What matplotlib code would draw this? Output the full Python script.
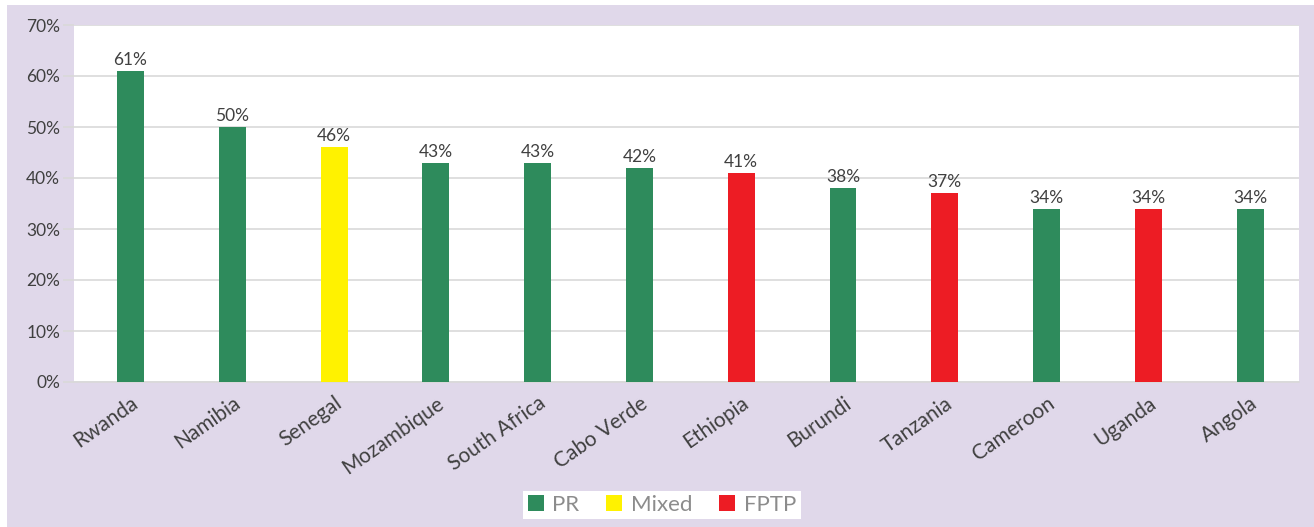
import matplotlib
matplotlib.use("Agg")
import matplotlib.pyplot as plt
from matplotlib.patches import Rectangle, Patch

countries = ["Rwanda", "Namibia", "Senegal", "Mozambique", "South Africa", "Cabo Verde",
             "Ethiopia", "Burundi", "Tanzania", "Cameroon", "Uganda", "Angola"]
values = [61, 50, 46, 43, 43, 42, 41, 38, 37, 34, 34, 34]
systems = ["PR", "PR", "Mixed", "PR", "PR", "PR", "FPTP", "PR", "FPTP", "PR", "FPTP", "PR"]
system_colors = {"PR": "#2E8B5C", "Mixed": "#FFF200", "FPTP": "#ED1C24"}
yticks = [0, 10, 20, 30, 40, 50, 60, 70]

plt.rcParams['font.family'] = ['Lato', 'DejaVu Sans']

fig = plt.figure(figsize=(13.14, 5.27), dpi=100)
fig.patch.set_facecolor("#E0D8EA")
# thin white strips at left and top edges
fig.patches.append(Rectangle((0, 0), 7/1314, 1, transform=fig.transFigure,
                             facecolor="white", edgecolor="none", zorder=-5))
fig.patches.append(Rectangle((0, 1 - 5/527), 1, 5/527, transform=fig.transFigure,
                             facecolor="white", edgecolor="none", zorder=-5))

ax = fig.add_axes([74/1314, 1 - 382/527, (1299 - 74)/1314, (382 - 25)/527])
ax.set_facecolor("white")
x = range(len(countries))
bars = ax.bar(x, values, width=0.265, color=[system_colors[s] for s in systems], zorder=3)
for xi, v in zip(x, values):
    ax.text(xi, v + 0.6, f"{v}%", ha="center", va="bottom", fontsize=12.5, color="#404040")

ax.set_xlim(-0.555, 11.48)
ax.set_ylim(0, 70)
ax.set_yticks(yticks)
ax.set_yticklabels([f"{t}%" for t in yticks], fontsize=12.5, color="#404040")
ax.set_xticks(list(x))
ax.set_xticklabels(countries, rotation=35, ha="right", rotation_mode="anchor",
                   fontsize=15, color="#404040")
ax.tick_params(axis="x", length=0, pad=8)
ax.tick_params(axis="y", length=8, color="#D9D9D9", width=1.2, pad=2)
ax.grid(axis="y", color="#D9D9D9", linewidth=1.2, zorder=0)
for s in ["top", "right", "left"]:
    ax.spines[s].set_visible(False)
ax.spines["bottom"].set_color("#D9D9D9")
ax.spines["bottom"].set_linewidth(1.2)

handles = [Patch(facecolor=system_colors[k], edgecolor="none", label=k) for k in ["PR", "Mixed", "FPTP"]]
leg = fig.legend(handles=handles, loc="center", bbox_to_anchor=(662/1314, 1 - 505/527), ncol=3,
                 frameon=True, fancybox=False, fontsize=16, handlelength=0.72, handleheight=0.72,
                 columnspacing=1.2, handletextpad=0.4, borderpad=0.2, framealpha=1,
                 labelcolor="#8C8C8C")
leg.get_frame().set_facecolor("white")
leg.get_frame().set_edgecolor("none")

fig.savefig("out.png", dpi=100, facecolor=fig.get_facecolor())
